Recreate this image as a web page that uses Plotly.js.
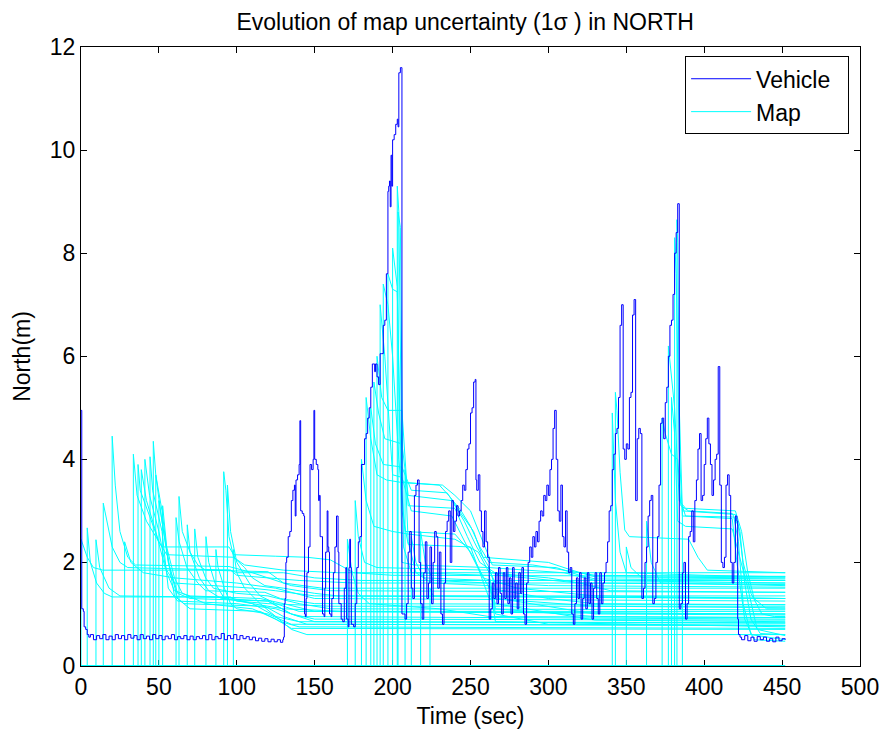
<!DOCTYPE html>
<html><head><meta charset="utf-8">
<script src="https://cdn.plot.ly/plotly-3.0.1.min.js"></script>
<style>html,body{margin:0;padding:0;background:#fff}#chart{width:886px;height:731px}</style>
</head><body><div id="chart"></div>
<script>
// Vehicle 1-sigma north uncertainty: [time (s), north (m)]
const vehicle = [
[0,4.95],[0.5,1.1],[1.5,1.05],[2,0.75],[3,0.7],[4,0.6],[5,0.55],
[6,0.6],[8,0.5],[10,0.58],[12,0.52],[14,0.6],[16,0.5],[18,0.57],[20,0.5],[22,0.6],[24,0.52],[26,0.58],[28,0.5],
[30,0.6],[32,0.53],[34,0.58],[36,0.5],[38,0.6],[40,0.52],[42,0.57],[44,0.5],[46,0.6],[48,0.52],[50,0.58],[52,0.5],
[54,0.57],[56,0.52],[58,0.6],[60,0.5],[62,0.56],[64,0.52],[66,0.58],[68,0.5],[70,0.57],[72,0.5],[74,0.56],[76,0.52],
[78,0.58],[80,0.5],[82,0.6],[84,0.5],[86,0.56],[88,0.52],[90,0.62],[92,0.5],[94,0.58],[96,0.52],[98,0.6],[100,0.5],
[102,0.58],[104,0.52],[106,0.56],[108,0.5],[110,0.55],[112,0.48],[114,0.53],[116,0.47],[118,0.52],[120,0.46],
[122,0.51],[124,0.46],[126,0.5],[128,0.45],[129.5,0.5],
[130,0.55],[130.5,1.2],[131,1.3],[131.5,2.0],[132,2.1],[133,2.5],[134,2.6],[135,3.2],[136,3.4],[137,3.5],[137.5,2.9],
[138,3.6],[139,3.7],[140,3.9],[140.5,4.75],[141,3.0],[142,2.95],[143,2.9],[143.5,1.0],[144,0.95],[144.5,1.3],[145,1.8],
[146,2.3],[147,3.9],[148,3.8],[149,4.0],[149.5,4.95],[150,4.0],[151,3.9],[152,3.8],[152.5,3.2],[153,3.3],[153.5,2.5],
[154.5,2.5],[155,1.0],[156,0.95],[156.5,1.5],[157,2.2],[158,3.0],[158.5,2.3],[159,2.2],[159.5,1.0],[160.5,0.95],
[161,1.3],[162,1.8],[163,2.3],[164,2.9],[165,2.2],[165.5,1.2],[167,0.9],[168,0.85],[169,1.5],[170,1.9],[170.5,0.9],
[171.5,0.75],[172,1.9],[172.5,2.45],[173,1.9],[173.5,0.8],[175,0.75],[176,1.2],[177,1.9],[178,2.4],[179,2.5],[180,3.9],
[181,3.9],[182,4.4],[183,4.5],[184,4.8],[185,5.0],[186,5.4],[187,5.85],[188,5.85],[188.5,5.7],[189,5.85],[190,5.6],
[191,5.45],[192,6.05],[193,6.05],[194,6.6],[195,6.7],[196,7.6],[197,9.2],[197.5,9.3],[198,9.4],[198.5,8.9],[199,9.9],
[199.5,9.3],[200,10.2],[201,10.3],[202,10.5],[203,10.6],[203.5,10.45],[204,11.5],[205,11.6],[205.5,11.6],[206,1.0],
[207,1.0],[208,0.9],[209,1.2],[210,2.2],[211,2.6],[212,1.5],[213,1.3],[214,3.3],[215,3.5],[216,3.6],[217,2.0],[218,1.2],
[219,0.9],[220,1.8],[221,2.4],[222,1.3],[223,1.6],[224,2.3],[225,1.2],[226,2.0],[227,2.6],[228,2.5],[229,1.5],[230,2.2],
[231,1.0],[232,0.8],[233,1.6],[234,2.6],[235,2.8],[236,3.0],[237,2.0],[238,3.2],[239,2.6],[240,2.8],[241,3.1],[242,2.9],
[243,3.0],[244,3.2],[245,3.5],[246,3.4],[247,3.8],[248,4.2],[249,4.3],[250,4.9],[251,5.0],[252,5.5],[253,5.55],
[253.5,3.6],[254,3.4],[255,3.7],[256,3.0],[257,2.6],[258,2.3],[259,3.0],[260,2.4],[261,2.1],[262,0.9],[263,1.1],
[264,1.6],[265,1.3],[266,1.8],[267,1.2],[268,1.9],[269,1.4],[270,1.0],[271,1.8],[272,1.3],[273,1.9],[274,1.2],[275,1.7],
[276,1.0],[277,1.9],[278,1.3],[279,1.6],[280,1.1],[281,1.8],[282,1.4],[283,1.9],[284,1.0],[285,0.8],[286,1.6],[287,2.0],
[288,2.3],[289,2.1],[290,2.5],[291,2.3],[292,2.6],[293,2.4],[294,2.8],[295,3.0],[296,2.9],[297,3.3],[298,3.2],[299,3.5],
[300,3.3],[301,3.8],[302,4.0],[303,4.6],[304,4.95],[305,4.0],[306,3.0],[307,2.8],[308,3.5],[309,2.5],[310,2.3],[311,3.0],
[312,2.2],[313,1.8],[314,1.9],[315,1.0],[316,0.8],[317,1.2],[318,1.7],[319,1.3],[320,1.8],[321,0.9],[322,1.3],[323,1.7],
[324,1.1],[325,1.8],[326,1.2],[327,1.6],[328,0.9],[329,1.5],[330,1.8],[331,1.3],[332,1.0],[333,1.8],[334,1.2],[335,1.6],
[336,1.8],[337,2.0],[338,2.4],[339,3.0],[340,3.1],[341,3.8],[342,4.1],[343,4.5],[344,4.6],[345,5.2],[346,6.6],[347,7.0],
[348,4.2],[349,4.0],[350,4.3],[351,4.2],[352,5.2],[353,5.3],[354,6.8],[355,7.1],[356,3.2],[357,4.4],[358,4.6],[359,4.5],
[360,1.3],[361,1.5],[362,2.0],[363,2.3],[364,2.9],[365,3.2],[366,3.3],[367,1.2],[368,1.3],[369,2.0],[370,2.5],[371,3.5],
[372,4.7],[373,4.8],[374,4.4],[375,5.1],[376,5.4],[377,6.0],[378,6.6],[379,6.7],[380,7.2],[381,8.0],[382,8.4],[383,8.96],
[384,1.1],[385,1.2],[386,1.8],[387,2.0],[388,0.9],[389,1.2],[390,2.5],[391,2.6],[392,3.0],[393,2.4],[394,3.2],[395,3.6],
[396,4.2],[397,4.5],[398,3.2],[399,3.3],[400,3.9],[401,4.4],[402,4.8],[403,4.3],[404,3.9],[405,3.3],[406,3.6],[407,4.0],
[408,4.1],[409,5.8],[410,3.5],[411,2.0],[412,1.9],[413,2.1],[414,3.5],[415,3.7],[416,3.3],[417,2.0],[418,1.6],[419,2.0],
[420,2.9],[421,2.8],[421.5,0.9],[422,0.6],[423,0.55],[424,0.5],[426,0.58],[428,0.48],[430,0.55],[432,0.47],[434,0.56],
[436,0.5],[438,0.55],[440,0.47],[442,0.52],[444,0.46],[446,0.55],[448,0.48],[450,0.52],[452,0.5]
];

// Map landmark 1-sigma north uncertainty tracks: [time, north] from initialisation onward
const mapTracks = [
[[0,2.45],[4,2.1],[8,1.9],[14,1.85],[96,1.85],[100,1.75],[118,1.7],[140,1.65],[175,1.6],[452,1.6]],
[[4,2.67],[6,2.0],[10,1.6],[15,1.4],[20,1.33],[96,1.33],[100,1.25],[120,1.2],[160,1.15],[452,1.15]],
[[9.6,2.44],[12,1.9],[18,1.5],[25,1.35],[95,1.32],[110,1.2],[130,1.1],[170,1.05],[452,1.05]],
[[14.3,3.15],[16,2.9],[20,2.3],[25,2.0],[30,1.9],[96,1.85],[100,1.8],[130,1.8],[150,1.7],[180,1.65],[452,1.65]],
[[20,4.45],[22,3.5],[25,2.6],[30,2.1],[35,1.95],[95,1.92],[110,1.8],[135,1.55],[160,1.45],[452,1.42]],
[[28,2.4],[32,2.0],[40,1.8],[60,1.7],[100,1.6],[125,1.5],[150,1.3],[452,1.25]],
[[33.6,4.1],[36,3.3],[42,2.8],[48,2.5],[52,2.3],[95,2.3],[98,2.15],[125,2.12],[145,2.1],[160,2.05],[175,1.8],[200,1.75],[452,1.73]],
[[36.6,3.9],[38,3.4],[44,2.9],[50,2.4],[55,2.15],[98,2.1],[105,1.95],[130,1.85],[165,1.8],[452,1.8]],
[[38.7,3.8],[42,3.2],[48,2.6],[54,1.9],[60,1.6],[110,1.5],[125,1.45],[150,1.35],[452,1.3]],
[[41,4.0],[44,3.3],[50,2.6],[55,1.8],[60,1.45],[70,1.35],[115,1.3],[130,1.2],[150,1.05],[452,1.0]],
[[44.3,4.05],[46,3.4],[52,2.6],[56,1.5],[62,1.25],[100,1.2],[125,1.1],[140,0.95],[452,0.9]],
[[46.4,4.35],[48,3.7],[52,3.0],[56,2.0],[62,1.4],[70,1.3],[120,1.25],[135,1.0],[150,0.85],[452,0.82]],
[[48,3.7],[51,3.0],[55,2.2],[60,1.35],[66,1.2],[118,1.15],[130,0.95],[145,0.8],[452,0.78]],
[[50,3.2],[53,2.6],[57,1.9],[62,1.3],[70,1.1],[115,1.05],[128,0.85],[140,0.75],[452,0.72]],
[[52.4,3.1],[55,2.3],[60,1.7],[65,1.4],[80,1.2],[110,1.1],[125,0.9],[135,0.72],[452,0.7]],
[[61,2.87],[63,2.4],[68,1.9],[75,1.6],[80,1.45],[118,1.42],[128,1.3],[150,1.2],[452,1.18]],
[[62.9,3.28],[65,2.6],[70,2.2],[75,1.95],[80,1.85],[120,1.82],[130,1.6],[155,1.5],[452,1.5]],
[[68.2,2.73],[70,2.2],[76,1.7],[82,1.45],[90,1.3],[120,1.25],[135,1.0],[150,0.9],[452,0.88]],
[[73,2.65],[75,2.1],[80,1.7],[85,1.5],[100,1.4],[120,1.35],[140,1.2],[160,1.1],[452,1.08]],
[[80.2,2.5],[82,2.0],[86,1.6],[92,1.3],[110,1.2],[125,0.95],[140,0.85],[452,0.83]],
[[86.6,2.25],[88,1.9],[92,1.5],[96,1.2],[100,1.1],[120,1.0],[135,0.8],[452,0.78]],
[[91.6,3.76],[93,3.4],[95,2.5],[98,2.1],[105,1.9],[110,1.7],[118,1.55],[130,1.5],[150,1.4],[165,1.35],[452,1.35]],
[[94,3.5],[96,2.6],[100,2.0],[108,1.6],[115,1.35],[125,1.2],[140,1.05],[452,1.0]],
[[97.8,2.25],[100,1.8],[105,1.5],[115,1.2],[125,0.95],[135,0.7],[145,0.6],[452,0.6]],
[[171,2.45],[174,1.8],[178,1.4],[185,1.2],[230,1.1],[262,0.95],[452,0.93]],
[[176,3.2],[178,2.5],[182,2.0],[190,1.9],[262,1.85],[266,1.6],[300,1.55],[452,1.52]],
[[180,4.0],[183,3.2],[188,2.7],[200,2.6],[210,2.55],[240,2.45],[255,2.2],[262,1.8],[300,1.7],[320,1.6],[452,1.57]],
[[183,5.2],[186,4.4],[190,3.7],[196,3.6],[206,3.55],[230,3.5],[236,3.3],[244,3.0],[250,2.7],[256,2.3],[262,2.0],[290,1.95],[310,1.85],[330,1.75],[452,1.72]],
[[186,5.0],[189,4.3],[194,3.9],[206,3.85],[212,3.4],[235,3.35],[245,2.9],[252,2.6],[258,2.1],[300,2.0],[315,1.85],[330,1.72],[452,1.7]],
[[188,5.5],[191,4.9],[195,4.4],[206,4.3],[210,3.3],[238,3.2],[246,2.8],[254,2.3],[262,1.9],[310,1.8],[330,1.65],[452,1.6]],
[[190,6.0],[193,5.2],[197,4.95],[206,4.95],[210,3.1],[240,3.05],[248,2.5],[256,2.0],[268,1.75],[320,1.6],[340,1.45],[452,1.42]],
[[192,7.0],[195,6.0],[200,3.7],[206,3.65],[212,3.0],[238,2.9],[248,2.3],[258,1.7],[280,1.5],[330,1.35],[452,1.3]],
[[194,7.4],[197,7.0],[200,6.0],[204,4.0],[208,2.6],[240,2.55],[250,2.2],[262,1.5],[300,1.3],[330,1.2],[452,1.18]],
[[197,7.6],[200,7.3],[203,7.25],[206,3.0],[210,2.35],[250,2.3],[262,1.3],[330,1.15],[452,1.12]],
[[200,8.1],[203,7.35],[206,2.0],[214,1.95],[262,1.9],[268,1.3],[330,1.0],[452,0.98]],
[[203,9.3],[204,8.8],[206,3.6],[208,3.55],[232,3.5],[240,3.3],[250,3.0],[258,2.4],[264,1.95],[305,1.9],[320,1.75],[330,1.68],[452,1.65]],
[[203.5,8.8],[205,8.5],[207,2.3],[212,1.8],[262,1.75],[266,1.1],[330,0.95],[452,0.93]],
[[208,3.8],[210,2.4],[215,1.8],[225,1.6],[262,1.55],[266,1.2],[330,0.88],[452,0.85]],
[[212,2.5],[215,2.0],[220,1.7],[262,1.65],[266,1.0],[300,0.8],[452,0.77]],
[[218,2.6],[221,2.0],[226,1.65],[262,1.6],[266,0.85],[452,0.75]],
[[224,1.5],[226,1.35],[452,1.3]],
[[341,4.9],[343,3.2],[346,2.2],[350,1.8],[400,1.75],[452,1.72]],
[[343,5.3],[344,4.95],[346,3.75],[349,2.63],[352,2.5],[390,2.45],[396,2.1],[402,1.85],[452,1.8]],
[[350,2.3],[353,1.9],[360,1.7],[452,1.68]],
[[363,2.8],[366,2.0],[372,1.6],[452,1.55]],
[[373,4.8],[375,4.5],[379,4.1],[383,4.0],[385,3.1],[390,3.0],[418,2.95],[422,2.7],[425,2.0],[430,1.4],[437,1.0],[445,0.95],[452,0.95]],
[[377,6.2],[379,5.6],[381,5.0],[384,3.2],[388,3.05],[420,3.0],[424,2.6],[428,1.8],[432,1.3],[440,1.1],[452,1.1]],
[[379,5.2],[381,4.5],[383,2.8],[388,2.7],[418,2.65],[422,2.2],[428,1.5],[434,0.7],[452,0.58]],
[[381,8.3],[382,7.6],[384,4.2],[386,2.9],[419,2.88],[422,2.4],[425,1.2],[430,0.6],[452,0.5]],
[[382.5,8.65],[383,8.2],[384,5.0],[386,3.0],[420,2.93],[423,2.6],[426,1.6],[430,0.9],[436,0.62],[452,0.6]],
[[386,3.1],[388,2.9],[418,2.85],[421,2.0],[426,0.9],[432,0.5],[452,0.47]],
[[452,0]]
];

const seriesNames = ['Vehicle', 'Map'];
const axisTickValsX = [0,50,100,150,200,250,300,350,400,450,500];
const axisTickValsY = [0,2,4,6,8,10,12];

const FONT = '"Liberation Sans", Arial, Helvetica, sans-serif';
const PAD = '\u00a0\u00a0';
const traces = [];
mapTracks.forEach((tr, i) => {
  const pts = [[0,0],[tr[0][0],0]].concat(tr);
  traces.push({
    x: pts.map(p => p[0]), y: pts.map(p => p[1]),
    type: 'scatter', mode: 'lines',
    line: {color: '#00ffff', width: 1},
    name: seriesNames[1] + PAD, legendgroup: 'map', showlegend: i === 0, legendrank: 2,
    hoverinfo: 'skip'
  });
});
traces.push({
  x: vehicle.map(p => p[0]), y: vehicle.map(p => p[1]),
  type: 'scatter', mode: 'lines',
  line: {color: '#0000ff', width: 1, shape: 'hv'},
  name: seriesNames[0] + PAD, legendrank: 1
});

const layout = {
  width: 886, height: 731,
  margin: {l: 81, r: 26, t: 47, b: 65},
  paper_bgcolor: '#ffffff', plot_bgcolor: '#ffffff',
  font: {family: FONT, size: 23, color: '#000'},
  title: {text: 'Evolution of map uncertainty (1σ ) in NORTH', x: 0.525, xref: 'container', y: 0.97, yref: 'container', yanchor: 'middle', xanchor: 'center', font: {size: 23, family: FONT}},
  showlegend: true,
  legend: {x: 0.986, xanchor: 'right', y: 0.985, yanchor: 'top', bgcolor: '#fff', bordercolor: '#000', borderwidth: 1, font: {size: 23, family: FONT}, traceorder: 'normal', itemwidth: 60},
  xaxis: {
    range: [0, 500], tickvals: axisTickValsX, ticks: 'inside', ticklen: 6, tickcolor: '#000',
    showline: true, linecolor: '#000', linewidth: 1, mirror: 'ticks', showgrid: false, zeroline: false,
    layer: 'below traces',
    title: {text: 'Time (sec)', standoff: 9, font: {size: 23}}
  },
  yaxis: {
    range: [-0.0097, 12], tickvals: axisTickValsY, ticks: 'inside', ticklen: 6, tickcolor: '#000',
    showline: true, linecolor: '#000', linewidth: 1, mirror: 'ticks', showgrid: false, zeroline: false,
    layer: 'below traces',
    title: {text: 'North(m)', standoff: 12, font: {size: 23}}
  }
};

Plotly.newPlot('chart', traces, layout, {displayModeBar: false, staticPlot: true});
</script>
</body></html>
